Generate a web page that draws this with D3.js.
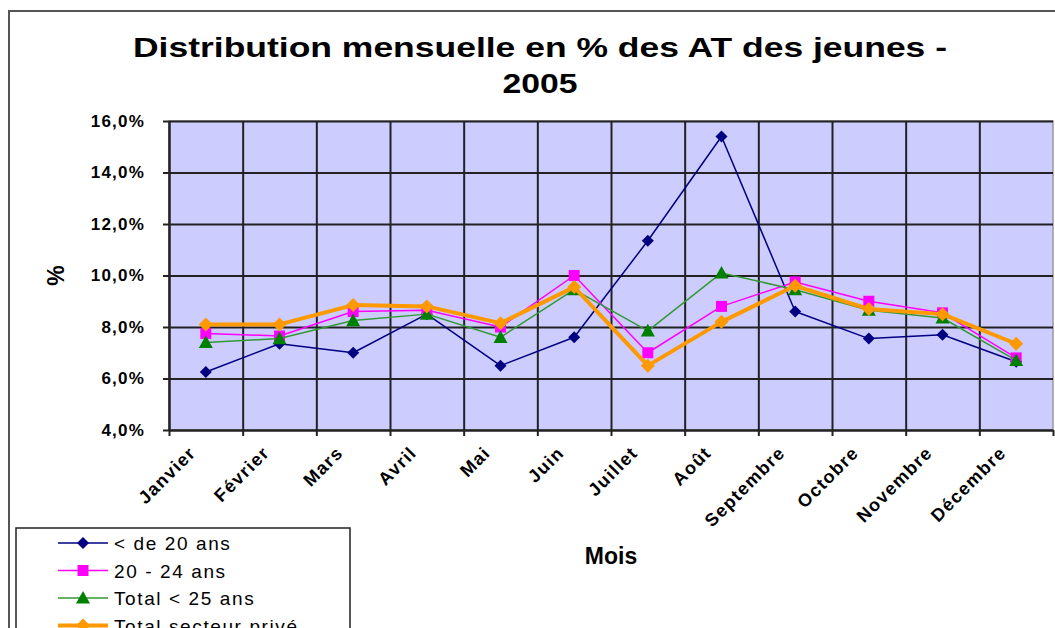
<!DOCTYPE html>
<html>
<head>
<meta charset="utf-8">
<script src="https://cdn.jsdelivr.net/npm/d3@7"></script>
<style>
  body { margin: 0; background: #fff; }
  text { font-family: "Liberation Sans", Arial, sans-serif; }
</style>
</head>
<body>
<div id="viz"></div>
<script>
// data
var months = ['Janvier', 'Février', 'Mars', 'Avril', 'Mai', 'Juin',
              'Juillet', 'Août', 'Septembre', 'Octobre', 'Novembre', 'Décembre'];
var moins20 = [6.25, 7.35, 7.0, 8.5, 6.5, 7.6, 11.35, 15.4, 8.6, 7.55, 7.7, 6.65];
var de20a24 = [7.75, 7.65, 8.6, 8.65, 8.0, 10.0, 7.0, 8.8, 9.75, 9.0, 8.55, 6.8];
var totalMoins25 = [7.4, 7.55, 8.25, 8.5, 7.6, 9.45, 7.85, 10.1, 9.45, 8.65, 8.35, 6.7];
var totalPrive = [8.1, 8.1, 8.85, 8.8, 8.15, 9.55, 6.5, 8.2, 9.6, 8.7, 8.5, 7.35];
var yTicks = [4, 6, 8, 10, 12, 14, 16];
var seriesNames = ['< de 20 ans', '20 - 24 ans', 'Total < 25 ans', 'Total secteur privé'];

var series = [
  {name: seriesNames[0], values: moins20, color: '#000080', width: 1.5, marker: 'diamond', size: 12, fill: '#000080'},
  {name: seriesNames[1], values: de20a24, color: '#FF00FF', width: 1.5, marker: 'square', size: 11, fill: '#FF00FF'},
  {name: seriesNames[2], values: totalMoins25, color: '#339933', width: 1.5, marker: 'triangle', size: 14, fill: '#008000'},
  {name: seriesNames[3], values: totalPrive, color: '#FF9900', width: 4, marker: 'diamond', size: 14, fill: '#FF9900'}
];

var W = 1055, H = 628;
var margin = {top: 121, right: 2, bottom: 198, left: 169},
    width = W - margin.left - margin.right,
    height = H - margin.top - margin.bottom;

var svg = d3.select('#viz').append('svg')
    .attr('width', W)
    .attr('height', H);

// outer chart border
svg.append('path')
    .attr('d', 'M9,' + H + ' V11 H' + W)
    .attr('fill', 'none')
    .attr('stroke', '#555')
    .attr('stroke-width', 2);

// title
svg.append('text')
    .attr('x', 540).attr('y', 57)
    .attr('text-anchor', 'middle')
    .attr('font-size', 28).attr('font-weight', 'bold')
    .attr('textLength', 814).attr('lengthAdjust', 'spacingAndGlyphs')
    .text('Distribution mensuelle en % des AT des jeunes -');
svg.append('text')
    .attr('x', 540).attr('y', 93)
    .attr('text-anchor', 'middle')
    .attr('font-size', 28).attr('font-weight', 'bold')
    .attr('textLength', 75).attr('lengthAdjust', 'spacingAndGlyphs')
    .text('2005');

var x = d3.scaleBand().domain(months).range([0, width]).padding(0);
var xEdge = d3.scaleLinear().domain([0, months.length]).range([0, width]);
var y = d3.scaleLinear().domain([4, 16]).range([height, 0]);

var chart = svg.append('g')
    .attr('transform', 'translate(' + margin.left + ',' + margin.top + ')');

chart.append('rect')
    .attr('width', width).attr('height', height)
    .attr('fill', '#CCCCFF')
    .attr('stroke', '#999')
    .attr('stroke-width', 1.5);

// horizontal grid + y axis labels
var yAxis = chart.append('g')
    .call(d3.axisLeft(y).tickValues(yTicks).tickSize(-width).tickSizeOuter(0)
      .tickFormat(function(d) { return d3.format('.1f')(d).replace('.', ',') + '%'; }));
yAxis.select('.domain').attr('stroke', '#222').attr('stroke-width', 2);
yAxis.selectAll('.tick line').attr('stroke', '#222').attr('stroke-width', 2);
yAxis.selectAll('.tick text')
    .attr('x', -24)
    .attr('font-size', 17).attr('font-weight', 'bold')
    .attr('letter-spacing', 1.2)
    .attr('fill', '#000');
// outer tick marks on y
chart.append('g')
    .call(d3.axisLeft(y).tickValues(yTicks).tickSize(6).tickFormat(''))
    .call(function(g) { g.select('.domain').remove(); })
    .selectAll('.tick line').attr('stroke', '#222').attr('stroke-width', 2);

// vertical grid at category edges + x ticks
var xGrid = chart.append('g')
    .attr('transform', 'translate(0,' + height + ')')
    .call(d3.axisBottom(xEdge).tickValues(d3.range(0, months.length)).tickSize(-height).tickFormat(''));
xGrid.select('.domain').remove();
xGrid.selectAll('.tick line').attr('stroke', '#222').attr('stroke-width', 2);
var xAxis = chart.append('g')
    .attr('transform', 'translate(0,' + height + ')')
    .call(d3.axisBottom(xEdge).tickValues(d3.range(0, months.length + 1)).tickSize(6).tickSizeOuter(0).tickFormat(''));
xAxis.select('.domain').attr('stroke', '#222').attr('stroke-width', 2);
xAxis.selectAll('.tick line').attr('stroke', '#222').attr('stroke-width', 2);

// month labels
chart.append('g').selectAll('text')
    .data(months)
    .join('text')
    .attr('transform', function(d) {
      return 'translate(' + (x(d) + x.bandwidth() / 2 - 9) + ',' + (height + 24) + ') rotate(-45)';
    })
    .attr('text-anchor', 'end')
    .attr('font-size', 18).attr('font-weight', 'bold')
    .attr('letter-spacing', 1.3)
    .text(function(d) { return d; });

// axis titles
svg.append('text')
    .attr('x', 611).attr('y', 564)
    .attr('text-anchor', 'middle')
    .attr('font-size', 23).attr('font-weight', 'bold')
    .text('Mois');
svg.append('text')
    .attr('transform', 'translate(64,' + (margin.top + y(10)) + ') rotate(-90)')
    .attr('text-anchor', 'middle')
    .attr('font-size', 23).attr('font-weight', 'bold')
    .text('%');

// markers
function markerPath(type, s) {
  var h = s / 2;
  if (type === 'diamond') return 'M0,' + (-h) + 'L' + h + ',0L0,' + h + 'L' + (-h) + ',0Z';
  if (type === 'square') return 'M' + (-h) + ',' + (-h) + 'H' + h + 'V' + h + 'H' + (-h) + 'Z';
  return 'M0,' + (-h) + 'L' + h + ',' + (h * 0.8) + 'L' + (-h) + ',' + (h * 0.8) + 'Z';
}

var lineFunc = d3.line()
    .x(function(d, i) { return x(months[i]) + x.bandwidth() / 2; })
    .y(function(d) { return y(d); });

series.forEach(function(s) {
  var g = chart.append('g');
  g.append('path')
      .attr('d', lineFunc(s.values))
      .attr('fill', 'none')
      .attr('stroke', s.color)
      .attr('stroke-width', s.width)
      .attr('stroke-linejoin', 'round');
  g.selectAll('path.m')
      .data(s.values)
      .join('path')
      .attr('class', 'm')
      .attr('transform', function(d, i) {
        return 'translate(' + (x(months[i]) + x.bandwidth() / 2) + ',' + y(d) + ')';
      })
      .attr('d', markerPath(s.marker, s.size))
      .attr('fill', s.fill);
});

// legend (cut by the bottom edge, as in the source)
var legend = svg.append('g');
legend.append('rect')
    .attr('x', 16).attr('y', 528)
    .attr('width', 334).attr('height', 120)
    .attr('fill', '#fff')
    .attr('stroke', '#222')
    .attr('stroke-width', 1.5);
series.forEach(function(s, i) {
  var ly = 543 + i * 27.5;
  legend.append('line')
      .attr('x1', 58).attr('x2', 108)
      .attr('y1', ly).attr('y2', ly)
      .attr('stroke', s.color)
      .attr('stroke-width', s.width);
  legend.append('path')
      .attr('transform', 'translate(83,' + ly + ')')
      .attr('d', markerPath(s.marker, s.size))
      .attr('fill', s.fill);
  legend.append('text')
      .attr('x', 114).attr('y', ly + 7)
      .attr('font-size', 19)
      .attr('letter-spacing', 1.6)
      .text(s.name);
});
</script>
</body>
</html>
